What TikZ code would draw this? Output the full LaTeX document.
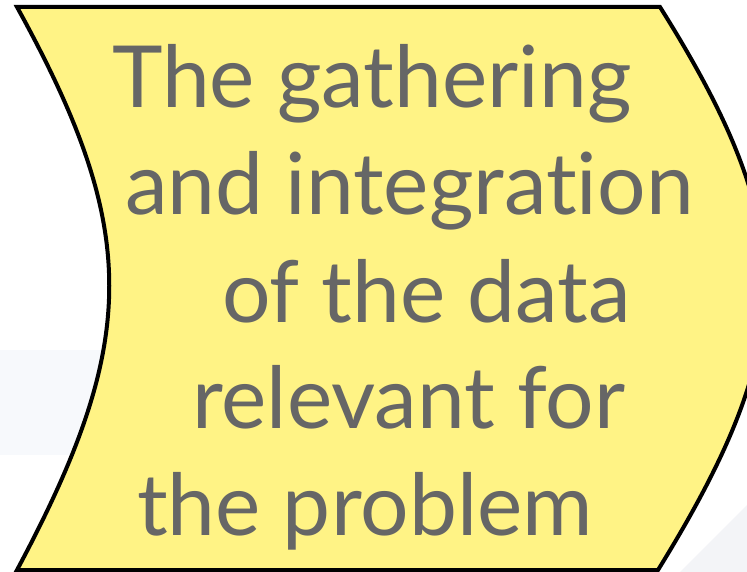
\documentclass[tikz,border=0pt]{standalone}
\usepackage{fontspec}
\setmainfont{Lato}[Ligatures=NoCommon]
\definecolor{stepyellow}{RGB}{255,243,133}
\definecolor{textgray}{RGB}{102,102,102}
\definecolor{faintblue}{RGB}{247,249,252}
\definecolor{faintgray}{RGB}{243,244,247}
\tikzset{
    line/.style={anchor=base west, text=textgray, inner sep=0pt, font=\fontsize{86}{100}\selectfont}
}

\begin{document}
\begin{tikzpicture}[x=1bp, y=-1bp]
    % Frame of the picture
    \useasboundingbox (0, 0) rectangle (747, 572);
    \clip (0, 0) rectangle (747, 572);
    \fill[white] (0, 0) rectangle (747, 572);

    % Faint background pieces
    \fill[faintblue] (0, 350) rectangle (300, 455);
    \fill[faintgray] (680, 572) -- (747, 505) -- (747, 572) -- cycle;

    \coordinate (topleft) at (17, 7);
    \coordinate (topright) at (660, 7);
    \coordinate (botright) at (658, 570);
    \coordinate (botleft) at (17, 570);

    % Draw the step shape
    \draw[line width=4bp, fill=stepyellow, line join=miter]
        (topleft) -- (topright)
        .. controls (800, 230) and (800, 340) .. (botright)
        -- (botleft)
        .. controls (140, 340) and (140, 230) .. (topleft) -- cycle;

    \node[line] (l1) at (112, 108) {The gathering};
    \node[line] (l2) at (125, 215) {and integration};
    \node[line] (l3) at (222, 322) {of the data};
    \node[line] (l4) at (192, 428) {relevant for};
    \node[line] (l5) at (137, 535) {the problem};
\end{tikzpicture}
\end{document}
